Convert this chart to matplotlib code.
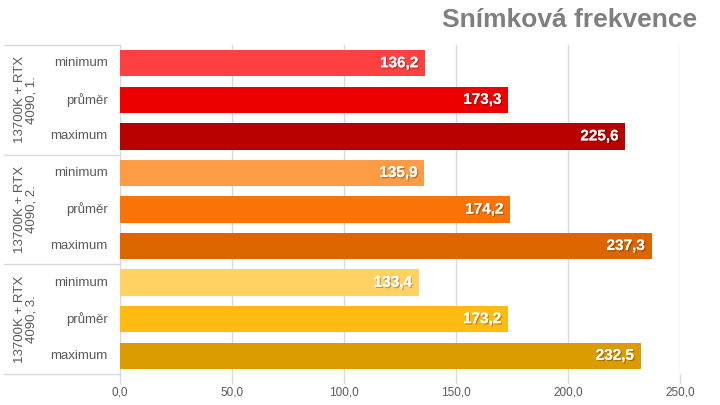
import matplotlib.pyplot as plt
import matplotlib.patheffects as pe
import numpy as np

plt.rcParams['font.family'] = ['Liberation Sans', 'DejaVu Sans']

# Data
groups = ['13700K + RTX\n4090, 1.', '13700K + RTX\n4090, 2.', '13700K + RTX\n4090, 3.']
metrics = ['minimum', 'průměr', 'maximum']
values = [
    [136.2, 173.3, 225.6],
    [135.9, 174.2, 237.3],
    [133.4, 173.2, 232.5],
]
colors = [
    ['#FF4040', '#EC0000', '#B90000'],
    ['#FF9B45', '#F87308', '#DC6500'],
    ['#FFD263', '#FFBB12', '#DA9C00'],
]
xticks = [0, 50, 100, 150, 200, 250]

fig = plt.figure(figsize=(7.2, 4.05), dpi=100)
ax = fig.add_axes([120/720, 1 - 374/405, 560/720, 329/405])

grey_line = '#d9d9d9'
txt_col = '#595959'

pos = 0
for g, grp in enumerate(groups):
    for m, metric in enumerate(metrics):
        v = values[g][m]
        ax.barh(pos, v, height=0.72, color=colors[g][m], zorder=3)
        t = ax.text(v - 3, pos, f'{v:.1f}'.replace('.', ','), ha='right', va='center',
                    color='white', fontweight='bold', fontsize=11, zorder=4)
        t.set_path_effects([pe.withSimplePatchShadow(offset=(1, -1), shadow_rgbFace='black', alpha=0.25),
                            pe.Normal()])
        ax.text(-0.022, pos, metric, transform=ax.get_yaxis_transform(), ha='right', va='center',
                color=txt_col, fontsize=9.5)
        pos += 1
    # popisek skupiny
    ax.text(-0.168, g * 3 + 1, grp, transform=ax.get_yaxis_transform(), ha='center', va='center',
            rotation=90, color=txt_col, fontsize=9.5, linespacing=1.0)

# oddelovace skupin v oblasti popisku
for yb in [-0.5, 2.5, 5.5, 8.5]:
    ax.plot([-0.207, 0], [yb, yb], transform=ax.get_yaxis_transform(), color=grey_line,
            lw=1, clip_on=False, zorder=1)

ax.set_xlim(0, 250)
ax.set_ylim(8.5, -0.5)
ax.set_yticks([])
ax.set_xticks(xticks)
ax.set_xticklabels([f'{x:.1f}'.replace('.', ',') for x in xticks], color=txt_col, fontsize=8.5)
ax.tick_params(axis='x', length=7, color=grey_line, width=1, pad=2)
ax.grid(True, axis='x', color=grey_line, lw=1, zorder=0)
ax.set_axisbelow(True)
for side in ['top', 'right', 'bottom']:
    ax.spines[side].set_visible(False)
ax.spines['left'].set_color(grey_line)

fig.text(697/720, 1 - 20/405, 'Snímková frekvence', ha='right', va='center',
         fontsize=19, fontweight='bold', color='#7f7f7f')

fig.savefig('out.png', dpi=100)
